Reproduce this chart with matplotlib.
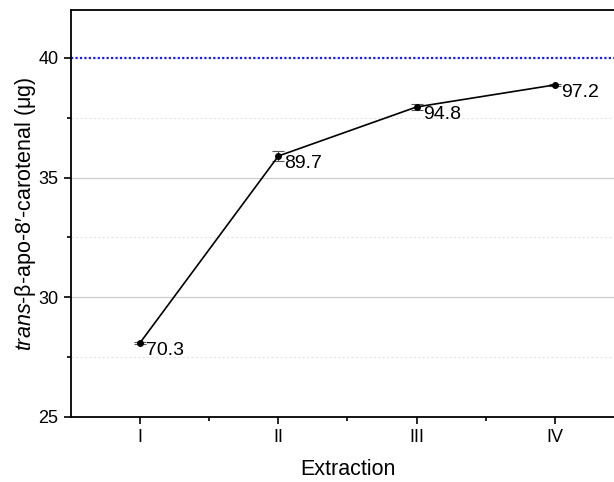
import numpy as np
import matplotlib
matplotlib.use('Agg')
import matplotlib.pyplot as plt

plt.rcParams['font.family'] = ['Liberation Sans', 'DejaVu Sans']
plt.rcParams['mathtext.fontset'] = 'custom'
plt.rcParams['mathtext.it'] = 'Liberation Sans:italic'
plt.rcParams['mathtext.rm'] = 'Liberation Sans'

# data
extractions = ['I', 'II', 'III', 'IV']
amount      = [28.1, 35.9, 37.95, 38.87]
err         = [0.05, 0.22, 0.13, 0.05]
recovery    = ['70.3', '89.7', '94.8', '97.2']
target      = 40

x = np.arange(1, len(extractions) + 1)

fig = plt.figure(figsize=(6.14, 4.82), dpi=100)
fig.patch.set_facecolor('white')
ax = fig.add_axes([0.1156, 0.1349, 0.9007, 0.8444])

# grid
for v in [30, 35]:
    ax.axhline(v, color='#cccccc', lw=0.9, zorder=0)
for v in [27.5, 32.5, 37.5]:
    ax.axhline(v, color='#e4e4e4', lw=0.8, ls=(0, (2, 2)), zorder=0)
ax.axhline(target, color='#1a1aff', lw=1.6, ls=(0, (1, 1)), zorder=1)

ax.errorbar(x, amount, yerr=err, color='black', lw=1.2, marker='o', ms=4,
            ecolor='#555555', elinewidth=0.8, capsize=4, capthick=0.8, zorder=3)

for xi, yi, lab in zip(x, amount, recovery):
    ax.annotate(lab, (xi, yi), xytext=(4.5, -5.5), textcoords='offset points',
                ha='left', va='center', fontsize=14)

ax.set_xlim(0.5, 4.5)
ax.set_ylim(25, 42)
ax.set_xticks(x)
ax.set_xticklabels(extractions)
ax.set_xticks([1.5, 2.5, 3.5], minor=True)
ax.set_yticks([25, 30, 35, 40])
ax.set_yticks([27.5, 32.5, 37.5], minor=True)
ax.tick_params(axis='both', which='major', direction='out', length=5, width=1.2,
               labelsize=13, pad=4)
ax.tick_params(axis='both', which='minor', direction='out', length=3, width=1.2)

for sp in ax.spines.values():
    sp.set_linewidth(1.3)
ax.spines['right'].set_visible(False)

ax.set_xlabel('Extraction', fontsize=15.5, labelpad=9)
ax.set_ylabel(r'$\it{trans}$-β-apo-8′-carotenal (μg)', fontsize=15.5, labelpad=0)

plt.savefig('out.png', dpi=100, facecolor='white')
plt.close()
